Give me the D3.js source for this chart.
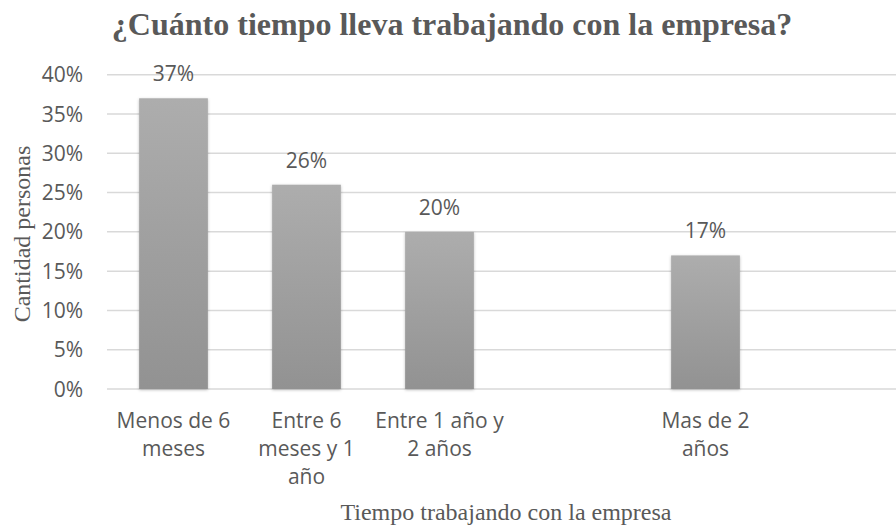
<!DOCTYPE html>
<html>
<head>
<meta charset="utf-8">
<script src="https://cdn.jsdelivr.net/npm/d3@7"></script>
<style>
  body { margin: 0; background: #fff; }
  svg text { fill: #595959; }
  .cat, .tick-label, .value { font-family: "Open Sans", sans-serif; font-size: 21px; }
  .serif { font-family: "Liberation Serif", "Times New Roman", serif; }
</style>
</head>
<body>
<div id="chart"></div>
<script>
// Data
var categories = ["Menos de 6 meses", "Entre 6 meses y 1 año", "Entre 1 año y 2 años", "", "Mas de 2 años", ""];
var values = [0.37, 0.26, 0.20, null, 0.17, null];
var yTicks = [0, 0.05, 0.10, 0.15, 0.20, 0.25, 0.30, 0.35, 0.40];
var chartTitle = "¿Cuánto tiempo lleva trabajando con la empresa?";
var yTitle = "Cantidad personas";
var xTitle = "Tiempo trabajando con la empresa";

function BarChart() {

}

BarChart.WIDTH = 896;
BarChart.HEIGHT = 527;
BarChart.LEFT = 107;
BarChart.RIGHT = 905;
BarChart.TOP = 74.7;
BarChart.BOTTOM = 389;
BarChart.PAD = 0.483;
BarChart.LINE_HEIGHT = 28.3;

/**
 * Draws the whole chart.
 */
BarChart.draw = function(location) {
    var svg = d3.select(location).append("svg")
        .attr("width", BarChart.WIDTH)
        .attr("height", BarChart.HEIGHT)

    var x = d3.scaleBand()
        .domain(d3.range(categories.length))
        .range([BarChart.LEFT, BarChart.RIGHT])
        .paddingInner(BarChart.PAD)
        .paddingOuter(BarChart.PAD/2)

    var y = d3.scaleLinear()
        .domain([0, 0.4])
        .range([BarChart.BOTTOM, BarChart.TOP])

    BarChart.drawDefs(svg);

    // Gridlines
    svg.append("g").selectAll("line")
        .data(yTicks)
        .enter()
        .append("line")
        .attr("x1", BarChart.LEFT)
        .attr("x2", BarChart.WIDTH)
        .attr("y1", function(d) { return y(d); })
        .attr("y2", function(d) { return y(d); })
        .attr("stroke", "#d9d9d9")
        .attr("stroke-width", 1.5)

    // Y axis labels
    svg.append("g").selectAll("text")
        .data(yTicks)
        .enter()
        .append("text")
        .attr("class", "tick-label")
        .attr("x", 83)
        .attr("y", function(d) { return y(d); })
        .attr("dy", "0.36em")
        .attr("text-anchor", "end")
        .text(d3.format(".0%"))

    var bars = categories.map(function(c, i) { return {i: i, name: c, value: values[i]}; })
        .filter(function(d) { return d.value != null; });

    svg.append("g").selectAll("rect")
        .data(bars)
        .enter()
        .append("rect")
        .attr("x", function(d) { return x(d.i); })
        .attr("y", function(d) { return y(d.value); })
        .attr("width", x.bandwidth())
        .attr("height", function(d) { return y(0) - y(d.value); })
        .attr("fill", "url(#barGrad)")
        .attr("filter", "url(#barShadow)")

    // Value labels
    svg.append("g").selectAll("text")
        .data(bars)
        .enter()
        .append("text")
        .attr("class", "value")
        .attr("x", function(d) { return x(d.i) + x.bandwidth()/2; })
        .attr("y", function(d) { return y(d.value) - 17; })
        .attr("text-anchor", "middle")
        .text(function(d) { return d3.format(".0%")(d.value); })

    // Category labels, wrapped to the band step
    var cats = svg.append("g").selectAll("text")
        .data(bars)
        .enter()
        .append("text")
        .attr("class", "cat")
        .attr("text-anchor", "middle")
        .attr("x", function(d) { return x(d.i) + x.bandwidth()/2; })
        .attr("y", 427.7)
    cats.each(function(d) { BarChart.wrap(d3.select(this), d.name, x.step()); });

    svg.append("text")
        .attr("class", "serif")
        .attr("x", 452)
        .attr("y", 35)
        .attr("text-anchor", "middle")
        .style("font-size", "32px")
        .style("font-weight", "bold")
        .text(chartTitle)

    svg.append("text")
        .attr("class", "serif")
        .attr("transform", "translate(30,234) rotate(-90)")
        .attr("text-anchor", "middle")
        .style("font-size", "24px")
        .text(yTitle)

    svg.append("text")
        .attr("class", "serif")
        .attr("x", (BarChart.LEFT + BarChart.RIGHT)/2)
        .attr("y", 520)
        .attr("text-anchor", "middle")
        .style("font-size", "24px")
        .text(xTitle)
}

/**
 * Gradient and soft shadow for the bars.
 */
BarChart.drawDefs = function(svg) {
    var defs = svg.append("defs");
    var grad = defs.append("linearGradient")
        .attr("id", "barGrad")
        .attr("x1", 0).attr("y1", 0).attr("x2", 0).attr("y2", 1)
    grad.append("stop").attr("offset", "0%").attr("stop-color", "#adadad")
    grad.append("stop").attr("offset", "100%").attr("stop-color", "#929292")

    defs.append("filter")
        .attr("id", "barShadow")
        .attr("x", "-20%").attr("y", "-20%").attr("width", "140%").attr("height", "140%")
        .append("feDropShadow")
        .attr("dx", 0).attr("dy", 1)
        .attr("stdDeviation", 1.5)
        .attr("flood-color", "#000")
        .attr("flood-opacity", 0.25)
}

/**
 * Breaks a label into tspans no wider than maxWidth.
 */
BarChart.wrap = function(text, label, maxWidth) {
    var words = label.split(" ");
    var xPos = text.attr("x");
    var line = [];
    var lineNo = 0;
    var tspan = text.append("tspan").attr("x", xPos).attr("dy", 0);
    for (var i = 0; i < words.length; i++) {
        line.push(words[i]);
        tspan.text(line.join(" "));
        if (tspan.node().getComputedTextLength() > maxWidth && line.length > 1) {
            line.pop();
            tspan.text(line.join(" "));
            line = [words[i]];
            lineNo++;
            tspan = text.append("tspan").attr("x", xPos).attr("dy", BarChart.LINE_HEIGHT).text(words[i]);
        }
    }
}

BarChart.draw("#chart");
</script>
</body>
</html>
